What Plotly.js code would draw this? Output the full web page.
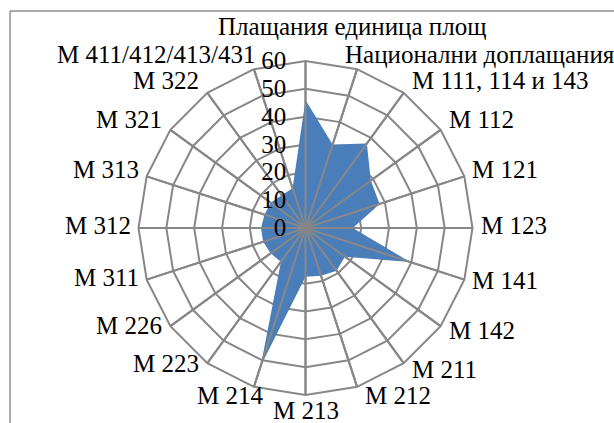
<!DOCTYPE html>
<html>
<head>
<meta charset="utf-8">
<script src="https://cdn.plot.ly/plotly-3.0.1.min.js"></script>
<style>
html,body{margin:0;padding:0;background:#fff;}
#chart{width:614px;height:423px;}
</style>
</head>
<body>
<div id="chart"></div>
<script>
const categories = ['Плащания единица площ','Национални доплащания','М 111, 114 и 143','М 112','М 121','М 123','М 141','М 142','М 211','М 212','М 213','М 214','М 223','М 226','М 311','М 312','М 313','М 321','М 322','М 411/412/413/431'];
const values = [46, 31.5, 37.5, 29, 28, 17, 39.5, 17.5, 19, 18, 17.5, 52, 15, 15.5, 16, 16, 15.5, 15.5, 14.5, 15];
const radialTicks = [0, 10, 20, 30, 40, 50, 60];

const W = 614, H = 423;
const cx = 305.5, cy = 228, R = 167;
const gridColor = '#878787';
const font = {family: '"Liberation Serif", "Times New Roman", serif', size: 25, color: '#000'};

const fillTrace = {
  type: 'scatterpolar',
  r: values.concat([values[0]]),
  theta: categories.concat([categories[0]]),
  mode: 'lines',
  fill: 'toself',
  fillcolor: '#4a7ebb',
  line: {width: 0, color: '#4a7ebb'},
  hoverinfo: 'skip',
  showlegend: false
};

// category spokes drawn above the fill, as in the original
const spokeR = [], spokeT = [];
categories.forEach(c => { spokeR.push(0, radialTicks[radialTicks.length-1], null); spokeT.push(c, c, null); });
const spokeTrace = {
  type: 'scatterpolar', r: spokeR, theta: spokeT, mode: 'lines',
  line: {color: gridColor, width: 2}, hoverinfo: 'skip', showlegend: false, connectgaps: false
};

// category labels placed around the outer polygon (Excel-like placement)
const n = categories.length;
const annotations = categories.map((c, i) => {
  const th = i * 2 * Math.PI / n;
  const s = Math.sin(th), co = Math.cos(th);
  const vx = cx + R * s, vy = cy - R * co;
  let x, y, xa;
  if (i === 0) { x = cx + 46; y = 27; xa = 'center'; }
  else if (Math.abs(s) < 0.15) { x = vx; y = vy + 15; xa = 'center'; }
  else {
    const nearV = Math.abs(s) < 0.35;
    y = (s < 0 && co < 0 && !nearV) ? vy - 3 - 4 * co : vy - 3 - 12 * co;
    if (s > 0) { xa = 'left'; x = vx + ((nearV && co > 0) ? -14 : 6); }
    else { xa = 'right'; x = vx + (nearV ? (co > 0 ? 3 : 11) : -6); }
  }
  return {text: c, xref: 'paper', yref: 'paper', x: x / W, y: 1 - y / H,
          xanchor: xa, yanchor: 'middle', showarrow: false, font: font};
});

const layout = {
  width: W, height: H,
  margin: {l: 0, r: 0, t: 0, b: 0},
  paper_bgcolor: '#fff',
  showlegend: false,
  font: font,
  polar: {
    domain: {x: [(cx - R) / W, (cx + R) / W], y: [(H - cy - R) / H, (H - cy + R) / H]},
    gridshape: 'linear',
    bgcolor: '#fff',
    angularaxis: {
      type: 'category', categoryarray: categories, direction: 'clockwise', rotation: 90,
      showline: true, linecolor: gridColor, linewidth: 2,
      showgrid: true, gridcolor: gridColor, gridwidth: 2,
      ticks: '', showticklabels: false
    },
    radialaxis: {
      range: [0, 60], tickvals: radialTicks, angle: 90, tickangle: 90,
      side: 'counterclockwise', showline: false,
      ticks: 'outside', ticklen: 10, tickcolor: 'rgba(0,0,0,0)',
      showgrid: true, gridcolor: gridColor, gridwidth: 2,
      tickfont: font
    }
  },
  annotations: annotations,
  shapes: [{
    type: 'rect', xref: 'paper', yref: 'paper',
    x0: 10 / W, x1: 1.2, y0: -0.2, y1: (H - 11) / H,
    line: {color: '#5a5a5a', width: 1}
  }]
};

Plotly.newPlot('chart', [fillTrace, spokeTrace], layout, {staticPlot: true, displayModeBar: false});
</script>
</body>
</html>
